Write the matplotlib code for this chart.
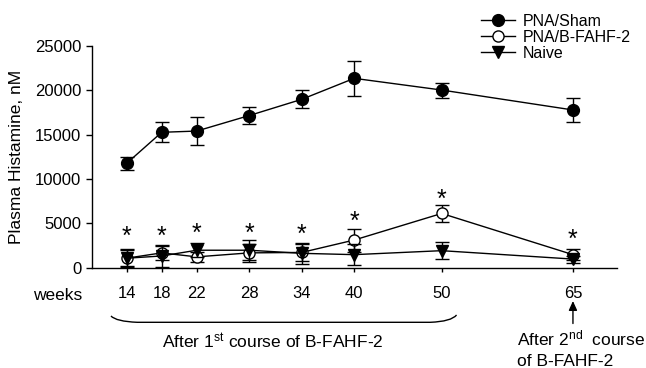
import matplotlib
matplotlib.use("Agg")
import matplotlib.pyplot as plt
import matplotlib.transforms as mtransforms
from matplotlib.path import Path
from matplotlib.patches import PathPatch
from matplotlib.lines import Line2D

plt.rcParams['font.family'] = ['Liberation Sans', 'DejaVu Sans']
plt.rcParams['mathtext.fontset'] = 'custom'
plt.rcParams['mathtext.rm'] = 'Liberation Sans'
plt.rcParams['mathtext.it'] = 'Liberation Sans:italic'
plt.rcParams['mathtext.bf'] = 'Liberation Sans:bold'

# ---------------- data ----------------
weeks = [14, 18, 22, 28, 34, 40, 50, 65]
week_labels = ["14", "18", "22", "28", "34", "40", "50", "65"]

sham_mean = [11760, 15260, 15400, 17150, 18980, 21350, 20030, 17780]
sham_err = [700, 1150, 1550, 1000, 1000, 1950, 850, 1350]

bfahf_mean = [1050, 1650, 1200, 1650, 1700, 3100, 6100, 1450]
bfahf_err = [900, 800, 600, 1000, 1000, 1300, 950, 650]

naive_mean = [1050, 1300, 1950, 1950, 1600, 1450, 1900, 950]
naive_err = [1000, 1200, 800, 1100, 1200, 1200, 950, 400]

star_y = [4150, 4150, 4500, 4500, 4400, 5800, 8300, 3850]

series_labels = ["PNA/Sham", "PNA/B-FAHF-2", "Naive"]
y_ticks = [0, 5000, 10000, 15000, 20000, 25000]

# ---------------- figure ----------------
W, H = 646, 368
fig = plt.figure(figsize=(W / 100, H / 100), dpi=100)
ax = fig.add_axes([91.7 / W, 1 - 267.5 / H, (616.7 - 91.7) / W, (267.5 - 46) / H])

FS_TICK = 12
FS = 12.5
FS_LEG = 11.5
common = dict(color='black', lw=1.0, elinewidth=1.0, capsize=5, capthick=1.0)
ax.errorbar(weeks, sham_mean, yerr=sham_err, fmt='-o', ms=8.5,
            mfc='black', mec='black', zorder=3, **common)
ax.errorbar(weeks, bfahf_mean, yerr=bfahf_err, fmt='-o', ms=8,
            mfc='white', mec='black', mew=1.0, zorder=4, **common)
ax.errorbar(weeks, naive_mean, yerr=naive_err, fmt='-v', ms=8.5,
            mfc='black', mec='black', zorder=5, **common)

star_tr = mtransforms.offset_copy(ax.transData, fig=fig, y=-4.3, units='points')
for x, y in zip(weeks, star_y):
    ax.text(x, y, "*", fontsize=18, ha='center', va='center', color='black',
            transform=star_tr)

ax.set_xlim(10, 70)
ax.set_ylim(0, 25000)
ax.set_yticks(y_ticks)
ax.set_yticklabels([str(v) for v in y_ticks])
ax.set_xticks(weeks)
ax.set_xticklabels(week_labels)
ax.tick_params(axis='y', direction='out', length=4, width=1, labelsize=FS_TICK, pad=3.5)
ax.tick_params(axis='x', direction='out', length=3, width=1, labelsize=FS_TICK, pad=10)
for s in ['top', 'right']:
    ax.spines[s].set_visible(False)
for s in ['left', 'bottom']:
    ax.spines[s].set_linewidth(1.0)

# y label
fig.text(16.7 / W, 1 - 156.7 / H, "Plasma Histamine, nM", rotation=90,
         ha='center', va='center', fontsize=FS)
# weeks label
fig.text(33 / W, 1 - 300 / H, "weeks", ha='left', va='baseline', fontsize=FS)

# legend (line + marker proxies)
proxies = [
    Line2D([], [], color='black', lw=1.0, marker='o', ms=8.5, mfc='black', mec='black'),
    Line2D([], [], color='black', lw=1.0, marker='o', ms=8, mfc='white', mec='black'),
    Line2D([], [], color='black', lw=1.0, marker='v', ms=8.5, mfc='black', mec='black'),
]
fig.legend(handles=proxies, labels=series_labels, loc='upper left',
           bbox_to_anchor=(481 / W, 1 - 14 / H), frameon=False, fontsize=FS_LEG,
           handlelength=2.1, handletextpad=0.5, labelspacing=0.06,
           borderpad=0, borderaxespad=0)

# brace under weeks 14-50 (x in data, y in figure pixels)
trans = mtransforms.blended_transform_factory(ax.transData, fig.transFigure)
def fy(py):
    return 1 - py / H
xl, xr = 12.2, 51.7
verts = [(xl, fy(316)), (xl + 0.6, fy(321.5)), (xl + 3.0, fy(322.3)),
         (xr - 3.0, fy(322.3)),
         (xr - 0.6, fy(321.5)), (xr, fy(315))]
codes = [Path.MOVETO, Path.CURVE3, Path.CURVE3, Path.LINETO, Path.CURVE3, Path.CURVE3]
brace = PathPatch(Path(verts, codes), transform=trans, fill=False, lw=1.0,
                  edgecolor='black', clip_on=False)
fig.add_artist(brace)

# arrow at week 65
ax.annotate("", xy=(65, fy(301)), xycoords=trans, xytext=(65, fy(323.5)),
            textcoords=trans,
            arrowprops=dict(arrowstyle='-|>,head_length=0.55,head_width=0.25',
                            color='black', lw=1.0, shrinkA=0, shrinkB=0))

fig.text(162 / W, fy(348.3), r"After 1$^{\mathrm{st}}$ course of B-FAHF-2",
         ha='left', va='baseline', fontsize=FS)
fig.text(517 / W, fy(345.7), r"After 2$^{\mathrm{nd}}$  course",
         ha='left', va='baseline', fontsize=FS)
fig.text(517 / W, fy(366), "of B-FAHF-2", ha='left', va='baseline', fontsize=FS)

fig.savefig("out.png", dpi=100)
